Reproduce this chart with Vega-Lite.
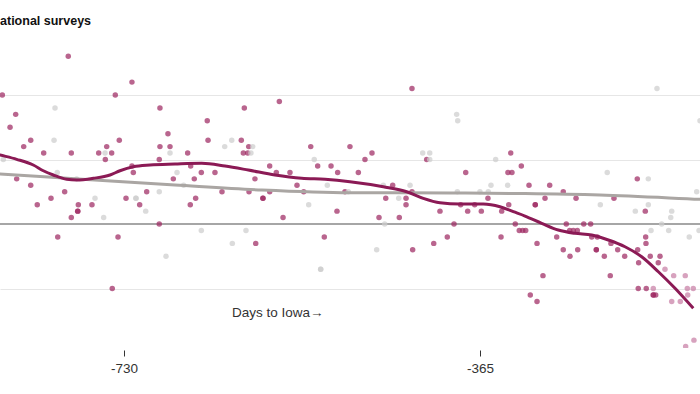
{
  "$schema": "https://vega.github.io/schema/vega-lite/v6.json",
  "width": 700,
  "height": 308,
  "autosize": {"type": "none"},
  "padding": {"top": 40, "left": 0, "right": 0, "bottom": 46},
  "background": "white",
  "title": {"text": "National surveys", "anchor": "start", "frame": "group", "fontSize": 12.5, "fontWeight": "bold", "font": "Liberation Sans", "color": "#111", "dx": -9, "baseline": "alphabetic", "offset": 3},
  "config": {"view": {"stroke": null}},
  "datasets": {
    "pts": [
      {"d":-787.1,"v":26,"c":"m"},{"d":-721.8,"v":22,"c":"m"},{"d":-854.7,"v":20,"c":"m"},{"d":-738.9,"v":20,"c":"m"},
      {"d":-693.1,"v":18,"c":"m"},{"d":-841.0,"v":17,"c":"m"},{"d":-846.8,"v":15,"c":"m"},{"d":-684.9,"v":14,"c":"m"},
      {"d":-825.6,"v":13,"c":"m"},{"d":-734.8,"v":13,"c":"m"},{"d":-832.8,"v":12,"c":"m"},{"d":-747.7,"v":12,"c":"m"},
      {"d":-693.1,"v":12,"c":"m"},{"d":-682.8,"v":12,"c":"m"},{"d":-812.3,"v":11,"c":"m"},{"d":-784.0,"v":11,"c":"m"},
      {"d":-755.9,"v":11,"c":"m"},{"d":-742.6,"v":11,"c":"m"},{"d":-749.1,"v":10,"c":"m"},{"d":-693.8,"v":10,"c":"m"},
      {"d":-721.8,"v":9,"c":"m"},{"d":-720.4,"v":8,"c":"m"},{"d":-679.4,"v":7,"c":"m"},{"d":-840.0,"v":7,"c":"m"},
      {"d":-825.6,"v":6,"c":"m"},{"d":-790.8,"v":5,"c":"m"},{"d":-706.7,"v":5,"c":"m"},{"d":-804.8,"v":4,"c":"m"},
      {"d":-727.9,"v":4,"c":"m"},{"d":-570.7,"v":19,"c":"m"},{"d":-606.6,"v":18,"c":"m"},{"d":-644.6,"v":16,"c":"m"},
      {"d":-643.8,"v":13,"c":"m"},{"d":-609.7,"v":13,"c":"m"},{"d":-664.7,"v":11,"c":"m"},{"d":-602.1,"v":12,"c":"m"},
      {"d":-607.6,"v":11,"c":"m"},{"d":-603.1,"v":11,"c":"m"},{"d":-538.5,"v":12,"c":"m"},{"d":-498.3,"v":12,"c":"m"},
      {"d":-531.4,"v":9,"c":"m"},{"d":-517.7,"v":9,"c":"m"},{"d":-580.6,"v":9,"c":"m"},{"d":-661.6,"v":9,"c":"m"},
      {"d":-650.7,"v":8,"c":"m"},{"d":-636.7,"v":8,"c":"m"},{"d":-573.8,"v":8,"c":"m"},{"d":-559.8,"v":8,"c":"m"},
      {"d":-510.9,"v":8,"c":"m"},{"d":-657.9,"v":7,"c":"m"},{"d":-595.7,"v":7,"c":"m"},{"d":-552.6,"v":6,"c":"m"},
      {"d":-629.5,"v":5,"c":"m"},{"d":-601.8,"v":5,"c":"m"},{"d":-580.6,"v":5,"c":"m"},{"d":-545.7,"v":5,"c":"m"},
      {"d":-503.4,"v":5,"c":"m"},{"d":-656.5,"v":4,"c":"m"},{"d":-587.5,"v":4,"c":"m"},{"d":-587.5,"v":4,"c":"m"},
      {"d":-434.7,"v":21,"c":"m"},{"d":-475.7,"v":11,"c":"m"},{"d":-482.9,"v":10,"c":"m"},{"d":-419.6,"v":10,"c":"m"},
      {"d":-333.5,"v":11,"c":"m"},{"d":-322.6,"v":9,"c":"m"},{"d":-489.7,"v":8,"c":"m"},{"d":-379.6,"v":8,"c":"m"},
      {"d":-336.3,"v":8,"c":"m"},{"d":-332.2,"v":8,"c":"m"},{"d":-454.5,"v":6,"c":"m"},{"d":-461.6,"v":4,"c":"m"},
      {"d":-440.8,"v":4,"c":"m"},{"d":-434.7,"v":5,"c":"m"},{"d":-356.8,"v":4,"c":"m"},{"d":-203.7,"v":7,"c":"m"},
      {"d":-314.7,"v":6,"c":"m"},{"d":-293.5,"v":6,"c":"m"},{"d":-279.6,"v":5,"c":"m"},{"d":-298.3,"v":4,"c":"m"},
      {"d":-266.5,"v":4,"c":"m"},{"d":-227.6,"v":4,"c":"m"},{"d":-818.9,"v":3,"c":"m"},{"d":-776.8,"v":3,"c":"m"},
      {"d":-762.8,"v":3,"c":"m"},{"d":-713.9,"v":3,"c":"m"},{"d":-777.4,"v":2,"c":"m"},{"d":-777.4,"v":2,"c":"m"},
      {"d":-784.0,"v":1,"c":"m"},{"d":-693.8,"v":0,"c":"m"},{"d":-797.9,"v":-2,"c":"m"},{"d":-736.1,"v":-2,"c":"m"},
      {"d":-742.0,"v":-10,"c":"m"},{"d":-662.0,"v":3,"c":"m"},{"d":-511.6,"v":2,"c":"m"},{"d":-566.9,"v":1,"c":"m"},
      {"d":-594.9,"v":-3,"c":"m"},{"d":-524.6,"v":-2,"c":"m"},{"d":-440.8,"v":3,"c":"m"},{"d":-468.5,"v":1,"c":"m"},
      {"d":-447.7,"v":1,"c":"m"},{"d":-434.0,"v":-4,"c":"m"},{"d":-412.4,"v":-3,"c":"m"},{"d":-398.5,"v":-2,"c":"m"},
      {"d":-391.6,"v":0,"c":"m"},{"d":-406.0,"v":2,"c":"m"},{"d":-384.8,"v":3,"c":"m"},{"d":-377.6,"v":2,"c":"m"},
      {"d":-370.4,"v":3,"c":"m"},{"d":-363.6,"v":2,"c":"m"},{"d":-342.7,"v":2,"c":"m"},{"d":-335.5,"v":3,"c":"m"},
      {"d":-343.4,"v":-2,"c":"m"},{"d":-328.8,"v":0,"c":"m"},{"d":-324.7,"v":-1,"c":"m"},{"d":-321.2,"v":-1,"c":"m"},
      {"d":-308.3,"v":3,"c":"m"},{"d":-308.3,"v":3,"c":"m"},{"d":-195.5,"v":2,"c":"m"},{"d":-318.1,"v":-1,"c":"m"},
      {"d":-276.5,"v":0,"c":"m"},{"d":-258.6,"v":0,"c":"m"},{"d":-251.5,"v":0,"c":"m"},{"d":-273.0,"v":-1,"c":"m"},
      {"d":-269.3,"v":-1,"c":"m"},{"d":-265.2,"v":-1,"c":"m"},{"d":-286.3,"v":-2,"c":"m"},{"d":-306.5,"v":-3,"c":"m"},
      {"d":-250.4,"v":-2,"c":"m"},{"d":-244.7,"v":-2,"c":"m"},{"d":-195.1,"v":-2,"c":"m"},{"d":-194.8,"v":-3,"c":"m"},
      {"d":-230.7,"v":-3,"c":"m"},{"d":-279.6,"v":-4,"c":"m"},{"d":-264.8,"v":-4,"c":"m"},{"d":-245.7,"v":-4,"c":"m"},
      {"d":-245.7,"v":-4,"c":"m"},{"d":-223.8,"v":-4,"c":"m"},{"d":-203.3,"v":-4,"c":"m"},{"d":-272.7,"v":-5,"c":"m"},
      {"d":-237.5,"v":-5,"c":"m"},{"d":-216.6,"v":-5,"c":"m"},{"d":-190.4,"v":-5,"c":"m"},{"d":-180.4,"v":-5,"c":"m"},
      {"d":-202.3,"v":-6,"c":"m"},{"d":-182.2,"v":-6,"c":"m"},{"d":-300.4,"v":-8,"c":"m"},{"d":-231.4,"v":-8,"c":"m"},
      {"d":-202.7,"v":-10,"c":"m"},{"d":-194.5,"v":-10,"c":"m"},{"d":-187.3,"v":-11,"c":"m"},{"d":-187.3,"v":-11,"c":"m"},
      {"d":-184.8,"v":-11,"c":"m"},{"d":-313.4,"v":-11,"c":"m"},{"d":-306.5,"v":-12,"c":"m"},
      {"d":-175.3,"v":-7,"c":"l"},{"d":-187.3,"v":-10,"c":"l"},{"d":-166.4,"v":-8,"c":"l"},{"d":-154.5,"v":-8,"c":"l"},
      {"d":-152.4,"v":-10,"c":"l"},{"d":-146.3,"v":-10,"c":"l"},{"d":-152.0,"v":-11,"c":"l"},{"d":-168.4,"v":-12,"c":"l"},
      {"d":-159.6,"v":-12,"c":"l"},{"d":-154.1,"v":-19,"c":"l"},{"d":-145.6,"v":-18,"c":"l"},
      {"d":-800.7,"v":18,"c":"g"},{"d":-801.7,"v":13,"c":"g"},{"d":-749.4,"v":11,"c":"g"},{"d":-682.8,"v":11,"c":"g"},
      {"d":-853.7,"v":10,"c":"g"},{"d":-798.4,"v":8,"c":"g"},{"d":-778.5,"v":7,"c":"g"},{"d":-693.8,"v":5,"c":"g"},
      {"d":-759.7,"v":4,"c":"g"},{"d":-717.7,"v":4,"c":"g"},{"d":-717.7,"v":4,"c":"g"},{"d":-619.5,"v":13,"c":"g"},
      {"d":-626.7,"v":12,"c":"g"},{"d":-598.0,"v":12,"c":"g"},{"d":-599.8,"v":11,"c":"g"},{"d":-534.9,"v":10,"c":"g"},
      {"d":-675.6,"v":8,"c":"g"},{"d":-521.5,"v":6,"c":"g"},{"d":-668.8,"v":6,"c":"g"},{"d":-388.9,"v":17,"c":"g"},
      {"d":-387.8,"v":16,"c":"g"},{"d":-423.7,"v":11,"c":"g"},{"d":-416.5,"v":11,"c":"g"},{"d":-416.5,"v":10,"c":"g"},
      {"d":-348.9,"v":10,"c":"g"},{"d":-464.1,"v":6,"c":"g"},{"d":-436.7,"v":6,"c":"g"},{"d":-353.7,"v":6,"c":"g"},
      {"d":-336.6,"v":6,"c":"g"},{"d":-448.3,"v":4,"c":"g"},{"d":-388.2,"v":5,"c":"g"},{"d":-365.0,"v":5,"c":"g"},
      {"d":-356.5,"v":5,"c":"g"},{"d":-500.0,"v":5,"c":"g"},{"d":-183.5,"v":21,"c":"g"},{"d":-139.4,"v":16,"c":"g"},
      {"d":-234.5,"v":8,"c":"g"},{"d":-192.4,"v":7,"c":"g"},{"d":-142.8,"v":5,"c":"g"},{"d":-707.7,"v":2,"c":"g"},
      {"d":-750.8,"v":1,"c":"g"},{"d":-686.9,"v":-5,"c":"g"},{"d":-540.6,"v":3,"c":"g"},{"d":-650.7,"v":-1,"c":"g"},
      {"d":-604.9,"v":-1,"c":"g"},{"d":-618.9,"v":-3,"c":"g"},{"d":-528.3,"v":-7,"c":"g"},{"d":-528.3,"v":-7,"c":"g"},
      {"d":-462.7,"v":0,"c":"g"},{"d":-470.9,"v":-4,"c":"g"},{"d":-241.6,"v":3,"c":"g"},{"d":-192.4,"v":3,"c":"g"},
      {"d":-205.7,"v":2,"c":"g"},{"d":-168.4,"v":2,"c":"g"},{"d":-169.4,"v":1,"c":"g"},{"d":-178.7,"v":0,"c":"g"},
      {"d":-189.6,"v":-1,"c":"g"},{"d":-171.5,"v":-1,"c":"g"},{"d":-150.4,"v":-2,"c":"g"},{"d":-140.4,"v":-1,"c":"g"}
    ],
    "smooth": [
      {"d":-880,"v":11.6},{"d":-857.1,"v":10.70},{"d":-840.0,"v":10.03},{"d":-823.0,"v":9.15},{"d":-812.7,"v":8.26},
      {"d":-802.4,"v":7.60},{"d":-788.7,"v":6.93},{"d":-778.5,"v":6.82},{"d":-761.4,"v":7.09},{"d":-744.3,"v":7.60},
      {"d":-734.1,"v":8.26},{"d":-720.4,"v":8.88},{"d":-703.3,"v":9.15},{"d":-677.7,"v":9.30},{"d":-650.3,"v":9.41},
      {"d":-626.4,"v":8.99},{"d":-602.5,"v":8.37},{"d":-575.2,"v":7.60},{"d":-547.8,"v":7.09},{"d":-523.9,"v":6.93},
      {"d":-498.3,"v":6.56},{"d":-464.1,"v":5.78},{"d":-440.1,"v":5.01},{"d":-423.1,"v":3.98},{"d":-406.0,"v":3.30},
      {"d":-385.5,"v":3.10},{"d":-361.6,"v":3.10},{"d":-344.5,"v":2.68},{"d":-330.8,"v":1.91},{"d":-318.8,"v":1.24},
      {"d":-301.7,"v":0.11},{"d":-284.7,"v":-0.93},{"d":-267.6,"v":-1.44},{"d":-250.4,"v":-1.71},{"d":-233.4,"v":-2.48},
      {"d":-216.3,"v":-3.52},{"d":-199.2,"v":-5.07},{"d":-182.1,"v":-7.40},{"d":-165.0,"v":-9.97},{"d":-146.3,"v":-13.07}
    ],
    "trend": [
      {"d":-880,"v":7.95},{"d":-857.1,"v":7.75},{"d":-788.4,"v":7.09},{"d":-677.7,"v":6.05},{"d":-588.5,"v":5.27},
      {"d":-498.3,"v":4.85},{"d":-395.7,"v":4.81},{"d":-318.8,"v":4.73},{"d":-241.9,"v":4.50},{"d":-139.4,"v":3.83},
      {"d":-120,"v":3.7}
    ]
  },
  "layer": [
    {
      "data": {"values": [{}]},
      "mark": {"type": "rule", "color": "#888", "strokeWidth": 1.6},
      "encoding": {
        "y": {"datum": 0, "type": "quantitative", "scale": {"domain": [-19.22, 28.53], "nice": false, "zero": false},
          "axis": {"values": [-10, 10, 20], "grid": true, "labels": false, "ticks": false, "domain": false, "title": null, "gridColor": "#e6e6e6", "gridWidth": 1.2}}
      }
    },
    {
      "data": {"name": "pts"},
      "mark": {"type": "circle", "size": 30, "opacity": 0.72, "clip": true},
      "encoding": {
        "x": {"field": "d", "type": "quantitative", "scale": {"domain": [-857.1, -139.4], "nice": false, "zero": false},
          "axis": {"values": [-730, -365], "grid": false, "domain": false, "tickColor": "#333", "tickSize": 6, "offset": 2, "labelFontSize": 13.5, "labelColor": "#333", "labelFont": "Liberation Sans", "labelPadding": 5, "title": null, "labelExpr": "'' + datum.value"}},
        "y": {"field": "v", "type": "quantitative"},
        "color": {"field": "c", "type": "nominal", "scale": {"domain": ["m", "l", "g"], "range": ["#9e2a62", "#c77ea5", "#cdcdcd"]}, "legend": null}
      }
    },
    {
      "data": {"name": "trend"},
      "mark": {"type": "line", "color": "#aaa6a3", "strokeWidth": 3, "interpolate": "monotone", "clip": true},
      "encoding": {"x": {"field": "d", "type": "quantitative"}, "y": {"field": "v", "type": "quantitative"}}
    },
    {
      "data": {"name": "smooth"},
      "mark": {"type": "line", "color": "#8b1a55", "strokeWidth": 3, "interpolate": "monotone", "clip": true},
      "encoding": {"x": {"field": "d", "type": "quantitative"}, "y": {"field": "v", "type": "quantitative"}}
    },
    {
      "data": {"values": [{}]},
      "mark": {"type": "text", "text": "Days to Iowa→", "align": "left", "baseline": "middle", "font": "Liberation Sans", "fontSize": 13.5, "color": "#333"},
      "encoding": {"x": {"datum": -619.2, "type": "quantitative"}, "y": {"datum": -13.8, "type": "quantitative"}}
    }
  ]
}
